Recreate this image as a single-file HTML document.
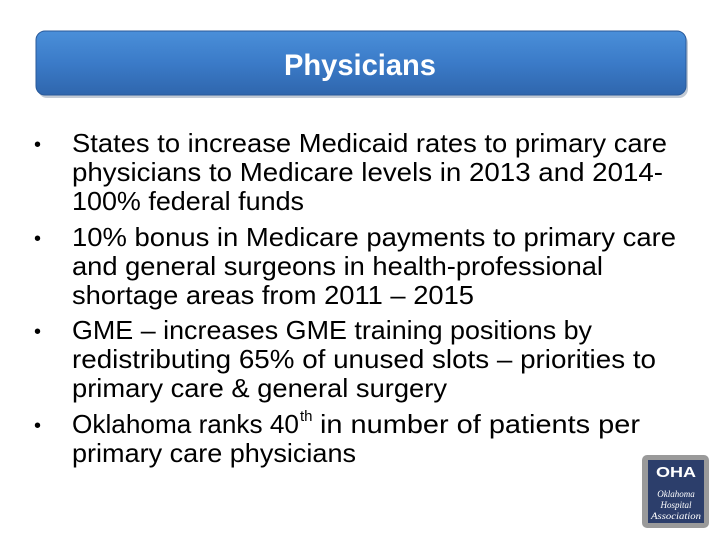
<!DOCTYPE html>
<html><head><meta charset="utf-8"><style>
html,body{margin:0;padding:0;background:#fff;}
#slide{position:relative;width:720px;height:540px;overflow:hidden;background:#fff;font-family:"Liberation Sans",sans-serif;}
</style></head><body>
<div id="slide">
<svg width="720" height="540" viewBox="0 0 720 540">
<defs>
<linearGradient id="tg" x1="0" y1="0" x2="0" y2="1">
<stop offset="0" stop-color="#4a8fd9"/><stop offset="0.5" stop-color="#3b7bc8"/><stop offset="1" stop-color="#2f66ad"/>
</linearGradient>
</defs>
<g>
<rect x="38" y="34" width="650" height="64" rx="9" fill="#9aa7b8" opacity="0.6"/>
<rect x="36" y="31" width="650" height="64" rx="9" fill="url(#tg)" stroke="#2a5a9a" stroke-width="1"/>
<text x="360" y="75" text-anchor="middle" font-size="30" font-weight="bold" fill="#fff" textLength="152" lengthAdjust="spacingAndGlyphs">Physicians</text>
</g>
<g font-size="26" fill="#000">
<text x="34" y="151" font-size="20">•</text>
<text x="72" y="152" textLength="595" lengthAdjust="spacingAndGlyphs">States to increase Medicaid rates to primary care</text>
<text x="72" y="181" textLength="591" lengthAdjust="spacingAndGlyphs">physicians to Medicare levels in 2013 and 2014-</text>
<text x="72" y="210" textLength="232" lengthAdjust="spacingAndGlyphs">100% federal funds</text>
<text x="34" y="245" font-size="20">•</text>
<text x="72" y="246" textLength="604" lengthAdjust="spacingAndGlyphs">10% bonus in Medicare payments to primary care</text>
<text x="72" y="275" textLength="531" lengthAdjust="spacingAndGlyphs">and general surgeons in health-professional</text>
<text x="72" y="304" textLength="402" lengthAdjust="spacingAndGlyphs">shortage areas from 2011 – 2015</text>
<text x="34" y="338" font-size="20">•</text>
<text x="72" y="339" textLength="520" lengthAdjust="spacingAndGlyphs">GME – increases GME training positions by</text>
<text x="72" y="368" textLength="584" lengthAdjust="spacingAndGlyphs">redistributing 65% of unused slots – priorities to</text>
<text x="72" y="397" textLength="375" lengthAdjust="spacingAndGlyphs">primary care &amp; general surgery</text>
<text x="34" y="432" font-size="20">•</text>
<text x="72" y="433" textLength="227" lengthAdjust="spacingAndGlyphs">Oklahoma ranks 40</text>
<text x="300" y="421" font-size="15">th</text>
<text x="320" y="433" textLength="320" lengthAdjust="spacingAndGlyphs">in number of patients per</text>
<text x="72" y="462" textLength="284" lengthAdjust="spacingAndGlyphs">primary care physicians</text>
</g>
<g>
<rect x="642" y="455" width="67" height="73" rx="5" fill="#9a9a9a"/>
<rect x="648" y="460" width="56" height="63" fill="#2c3e6b"/>
<text x="676" y="477" text-anchor="middle" font-size="15" font-weight="bold" fill="#fff" textLength="40" lengthAdjust="spacingAndGlyphs">OHA</text>
<g font-family="'Liberation Serif',serif" font-style="italic" font-size="9" fill="#fff" text-anchor="middle">
<text x="676" y="497">Oklahoma</text>
<text x="676" y="508">Hospital</text>
<text x="676" y="519" textLength="50" lengthAdjust="spacingAndGlyphs">Association</text>
</g>
</g>
</svg>
</div>
</body></html>
